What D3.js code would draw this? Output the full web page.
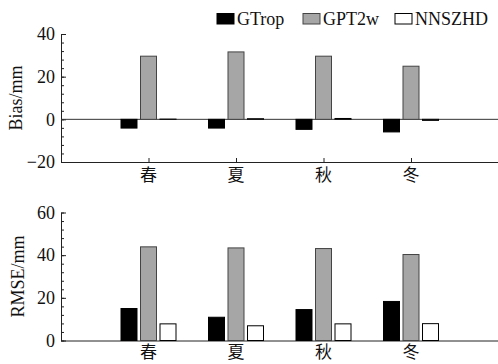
<!DOCTYPE html>
<html>
<head>
<meta charset="utf-8">
<script src="https://cdn.jsdelivr.net/npm/d3@7"></script>
<style>
  body { margin: 0; background: #fff; }
  svg text { font-family: "Liberation Serif", "Times New Roman", Times, serif; }
  svg text.cjk { font-family: "Noto Sans CJK SC", sans-serif; }
</style>
</head>
<body>
<div id="chart"></div>
<script>
const seasons = ["春", "夏", "秋", "冬"];
const series = ["GTrop", "GPT2w", "NNSZHD"];
const biasGTrop = [-4.1, -4.1, -4.7, -5.9];
const biasGPT2w = [29.6, 31.6, 29.6, 24.9];
const biasNNSZHD = [0.1, 0.3, 0.4, -0.5];
const rmseGTrop = [15.0, 10.9, 14.5, 18.3];
const rmseGPT2w = [43.9, 43.4, 43.1, 40.3];
const rmseNNSZHD = [7.8, 6.9, 7.8, 7.9];
const biasTicks = [-20, 0, 20, 40];
const rmseTicks = [0, 20, 40, 60];

const width = 498, height = 364;
const fills = { GTrop: "#000", GPT2w: "#a6a6a6", NNSZHD: "#fff" };
const strokes = { GTrop: "#000", GPT2w: "#444", NNSZHD: "#000" };

const svg = d3.select("#chart").append("svg")
    .attr("width", width)
    .attr("height", height)
    .style("display", "block");

// shared x: categories sit at 1..4 on a 0..5 scale
const x = d3.scaleLinear().domain([0, 5]).range([61, 498.5]);
const inner = d3.scaleBand().domain(series).range([-27.5, 27.5]).paddingInner(0.18);

const drawPanel = (rows, domain, range, ticks, title, titleX, labelY, zeroLine) => {
    const y = d3.scaleLinear().domain(domain).range(range);
    const g = svg.append("g");

    // minor ticks every 4
    g.append("g")
        .attr("transform", `translate(${x(0)},0)`)
        .call(d3.axisLeft(y).tickValues(d3.range(domain[0], domain[1] + 0.1, 4)).tickSize(-3).tickFormat(""))
        .call(a => a.select(".domain").remove())
        .call(a => a.selectAll("line").attr("stroke", "#222"));

    g.append("g")
        .attr("transform", `translate(${x(0)},0)`)
        .call(d3.axisLeft(y).tickValues(ticks).tickSizeInner(-5).tickSizeOuter(0).tickPadding(6))
        .attr("font-family", null)
        .call(a => a.select(".domain").attr("stroke", "#222"))
        .call(a => a.selectAll("line").attr("stroke", "#222"))
        .call(a => a.selectAll("text").style("font-size", "18px").attr("fill", "#111"));

    // bottom axis line with inward ticks at category centres
    g.append("g")
        .attr("transform", `translate(0,${y(domain[0])})`)
        .call(d3.axisBottom(x).tickValues([1, 2, 3, 4]).tickSize(-4).tickFormat(""))
        .call(a => a.select(".domain").attr("stroke", "#222"))
        .call(a => a.selectAll("line").attr("stroke", "#222"));

    if (zeroLine) {
        g.append("line")
            .attr("x1", x(0)).attr("x2", x(5))
            .attr("y1", y(0)).attr("y2", y(0))
            .attr("stroke", "#333");
    }

    series.forEach(s => {
        g.selectAll(null)
            .data(rows[s])
            .join("rect")
            .attr("x", (d, i) => x(i + 1) + inner(s))
            .attr("width", inner.bandwidth())
            .attr("y", d => y(Math.max(0, d)))
            .attr("height", d => Math.abs(y(d) - y(0)))
            .attr("fill", fills[s])
            .attr("stroke", strokes[s])
            .attr("stroke-width", 1);
    });

    g.selectAll(null)
        .data(seasons)
        .join("text")
        .attr("class", "cjk")
        .attr("x", (d, i) => x(i + 1))
        .attr("y", labelY)
        .attr("text-anchor", "middle")
        .style("font-size", "17px")
        .attr("fill", "#111")
        .text(d => d);

    svg.append("text")
        .attr("transform", `translate(${titleX},${(range[0] + range[1]) / 2}) rotate(-90)`)
        .attr("text-anchor", "middle")
        .style("font-size", "18px")
        .attr("fill", "#111")
        .text(title);
};

drawPanel({ GTrop: biasGTrop, GPT2w: biasGPT2w, NNSZHD: biasNNSZHD },
    [-20, 40], [162, 34], biasTicks, "Bias/mm", 22, 181, true);
drawPanel({ GTrop: rmseGTrop, GPT2w: rmseGPT2w, NNSZHD: rmseNNSZHD },
    [0, 60], [340.5, 212.5], rmseTicks, "RMSE/mm", 24, 358, false);

// legend
const legendX = [217, 303, 395];
const legend = svg.append("g");
series.forEach((s, i) => {
    legend.append("rect")
        .attr("x", legendX[i]).attr("y", 13.5)
        .attr("width", 17).attr("height", 10.5)
        .attr("fill", fills[s]).attr("stroke", strokes[s]);
    legend.append("text")
        .attr("x", legendX[i] + 20).attr("y", 25)
        .style("font-size", "18px")
        .attr("fill", "#111")
        .text(s);
});
</script>
</body>
</html>
